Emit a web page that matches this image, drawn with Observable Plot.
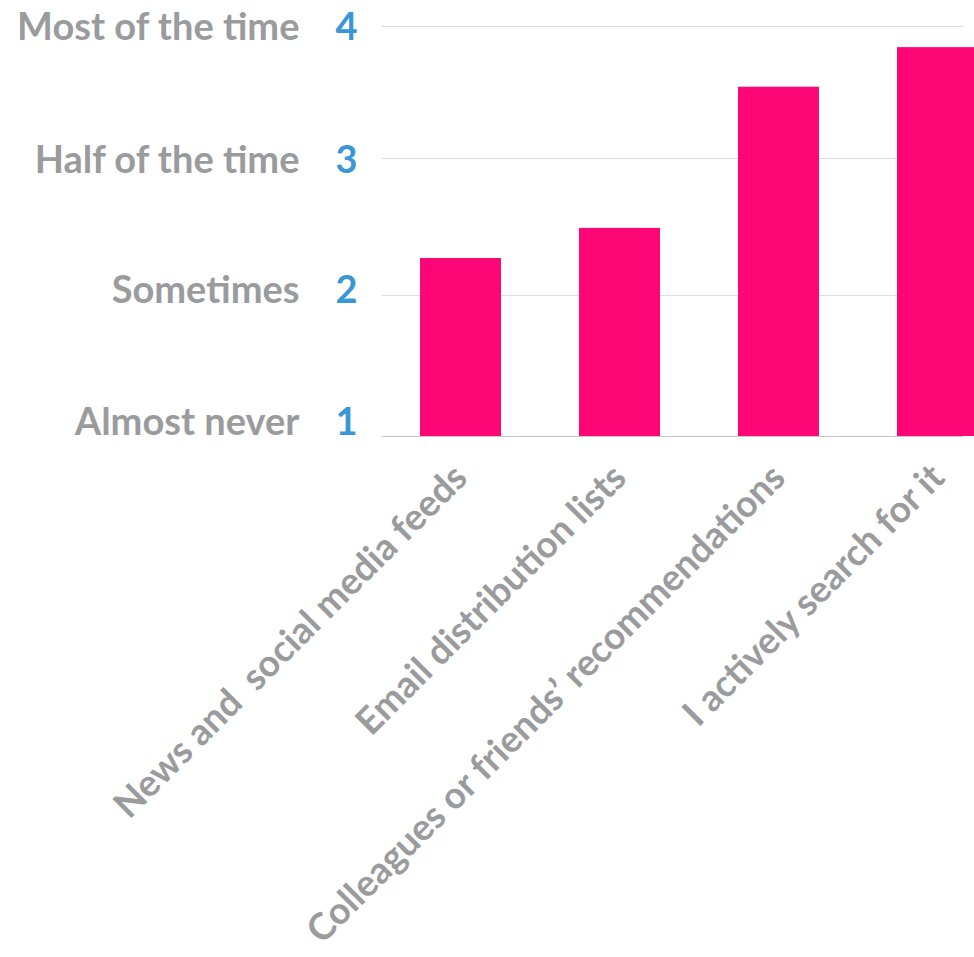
<!DOCTYPE html>
<html>
<head>
<meta charset="utf-8">
<script src="https://cdn.jsdelivr.net/npm/d3@7"></script>
<script src="https://cdn.jsdelivr.net/npm/@observablehq/plot@0.6"></script>
<style>
  html, body { margin: 0; padding: 0; background: #fff; }
  svg text { white-space: pre; }
</style>
</head>
<body>
<div id="chart"></div>
<script>
const categories = [
  "News and  social media feeds",
  "Email distribution lists",
  "Colleagues or friends’ recommendations",
  "I actively search for it"
];
const values = [2.27, 2.49, 3.54, 3.84];
const tickValues = [1, 2, 3, 4];
const tickLabels = ["Almost never", "Sometimes", "Half of the time", "Most of the time"];

const data = categories.map((c, i) => ({category: c, value: values[i]}));

const gray = "#9a9b9d";
const blue = "#3a97d6";
const pink = "#ff0677";
const labelShift = {1: -13.5, 2: -4.5, 3: 2, 4: 1};

// the reference's gridlines are slightly unevenly spaced; warp values to match
const warp = d3.scaleLinear().domain([1, 2, 3, 4]).range([1, 1 + 141 / 136.667, 1 + 278 / 136.667, 4]);

const yAxes = tickValues.flatMap(t => [
  Plot.axisY([t], {
    anchor: "left", tickSize: 0, tickPadding: 83, dy: labelShift[t],
    tickFormat: v => tickLabels[Math.round(v) - 1], color: gray, fontSize: 38, fontWeight: "bold"
  }),
  Plot.axisY([t], {
    anchor: "left", tickSize: 0, tickPadding: 25, dy: labelShift[t],
    tickFormat: v => String(t), color: blue, fontSize: 38, fontWeight: "bold"
  })
]);

const chart = Plot.plot({
  width: 974,
  height: 957,
  marginLeft: 382,
  marginRight: 11,
  marginTop: 26,
  marginBottom: 521,
  style: {fontFamily: "Lato", fontWeight: "bold", background: "#fff"},
  x: {domain: categories, range: [419.5, 978.5], paddingInner: 0.492, paddingOuter: 0, label: null},
  y: {type: "linear", domain: [1, 4], range: [436, 26], transform: warp, label: null},
  marks: [
    Plot.ruleY(tickValues.slice(1), {stroke: "#dcdcdc", strokeWidth: 1.2}),
    Plot.ruleY([1], {stroke: "#c6c6c6", strokeWidth: 1.2}),
    Plot.barY(data, {x: "category", y1: 1, y2: "value", fill: pink}),
    ...yAxes,
    Plot.axisX({
      anchor: "bottom", tickSize: 0, tickPadding: 35, tickRotate: -45,
      color: gray, fontSize: 37, fontWeight: "bold", label: null
    })
  ]
});
document.getElementById("chart").appendChild(chart);
</script>
</body>
</html>
